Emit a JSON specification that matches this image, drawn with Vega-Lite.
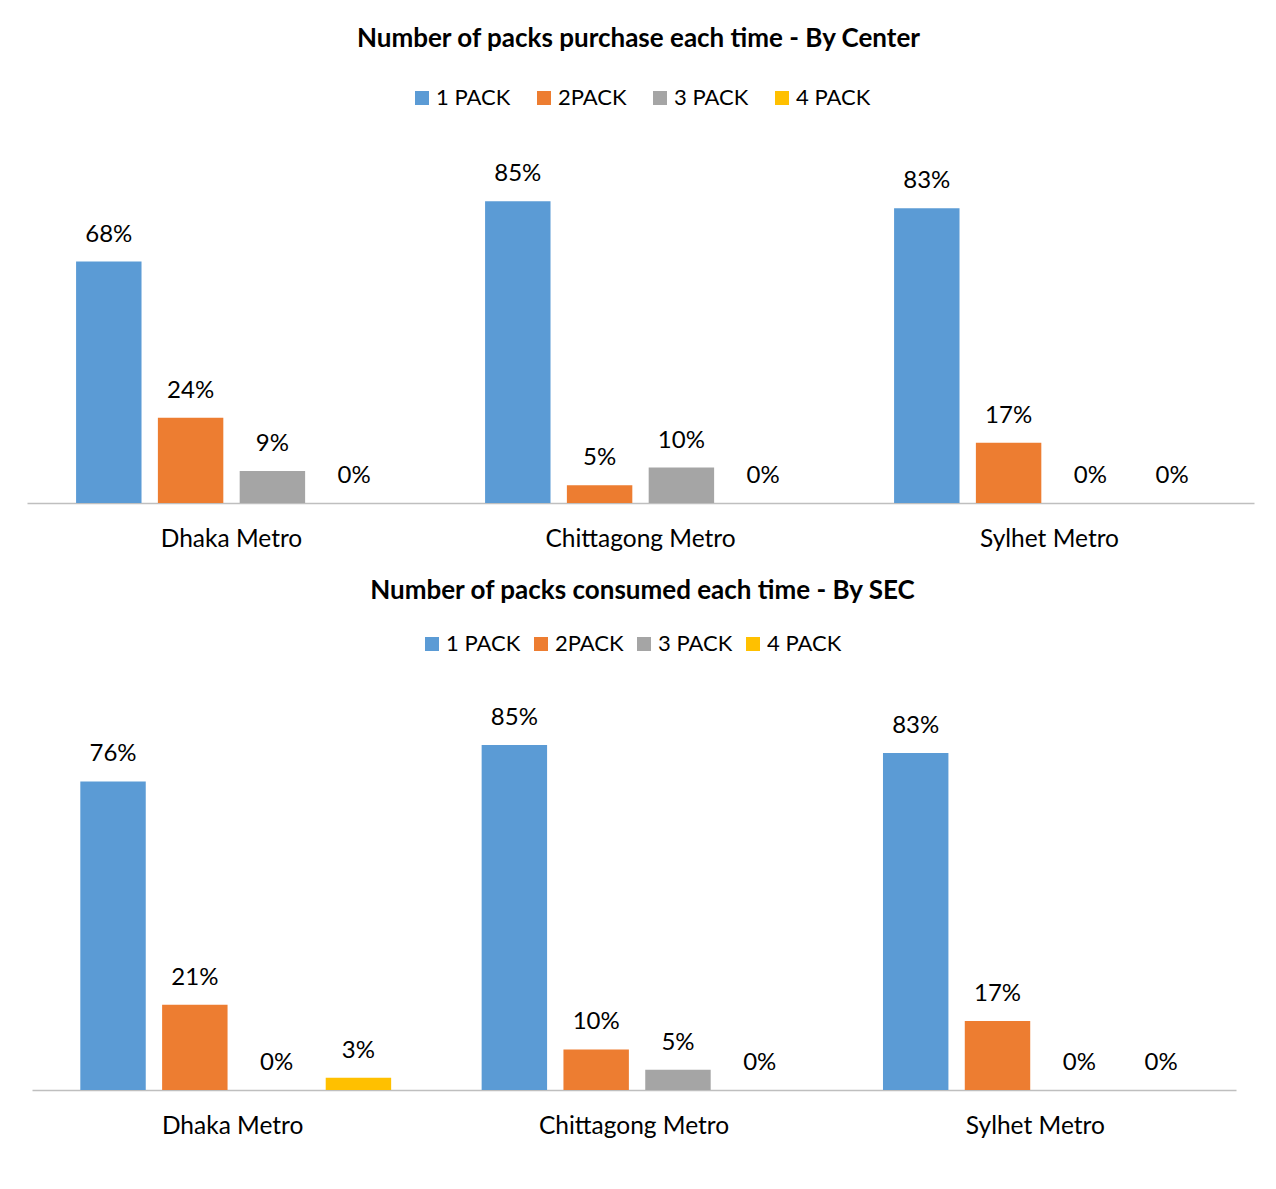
{
  "$schema": "https://vega.github.io/schema/vega-lite/v6.json",
  "background": "white",
  "padding": {"left": 27, "top": 26, "right": 22, "bottom": 10},
  "config": {
    "font": "Lato",
    "view": {"stroke": null},
    "title": {"font": "Lato", "fontSize": 26, "fontWeight": "bold", "color": "#000000", "anchor": "middle"},
    "legend": {"labelFont": "Lato", "labelFontSize": 22, "labelColor": "#000000", "symbolType": "square", "symbolSize": 196, "symbolStrokeWidth": 0, "orient": "top", "direction": "horizontal", "title": null, "labelOffset": 3, "layout": {"top": {"anchor": "middle"}}},
    "axisX": {"labelFont": "Lato", "labelFontSize": 24.5, "labelColor": "#000000", "ticks": false, "domainColor": "#BFBFBF", "domainWidth": 1.5, "labelPadding": 24, "labelLimit": 0, "title": null, "labelAngle": 0, "grid": false}
  },
  "spacing": 27,
  "vconcat": [
    {
      "title": {"text": "Number of packs purchase each time - By Center", "offset": 35, "dx": -2},
      "width": 1227,
      "height": 355,
      "data": {"values": [
        {"center": "Dhaka Metro", "pack": "1 PACK", "pct": 0.68},
        {"center": "Dhaka Metro", "pack": "2PACK", "pct": 0.24},
        {"center": "Dhaka Metro", "pack": "3 PACK", "pct": 0.09},
        {"center": "Dhaka Metro", "pack": "4 PACK", "pct": 0.0},
        {"center": "Chittagong Metro", "pack": "1 PACK", "pct": 0.85},
        {"center": "Chittagong Metro", "pack": "2PACK", "pct": 0.05},
        {"center": "Chittagong Metro", "pack": "3 PACK", "pct": 0.10},
        {"center": "Chittagong Metro", "pack": "4 PACK", "pct": 0.0},
        {"center": "Sylhet Metro", "pack": "1 PACK", "pct": 0.83},
        {"center": "Sylhet Metro", "pack": "2PACK", "pct": 0.17},
        {"center": "Sylhet Metro", "pack": "3 PACK", "pct": 0.0},
        {"center": "Sylhet Metro", "pack": "4 PACK", "pct": 0.0}
      ]},
      "encoding": {
        "x": {"field": "center", "type": "nominal", "sort": ["Dhaka Metro", "Chittagong Metro", "Sylhet Metro"], "scale": {"paddingInner": 0.2, "paddingOuter": 0.1}},
        "xOffset": {"field": "pack", "type": "nominal", "sort": ["1 PACK", "2PACK", "3 PACK", "4 PACK"], "scale": {"paddingInner": 0.2, "paddingOuter": 0.1}},
        "y": {"field": "pct", "type": "quantitative", "scale": {"domain": [0, 1]}, "axis": null}
      },
      "layer": [
        {
          "mark": {"type": "bar", "clip": false},
          "encoding": {
            "color": {"field": "pack", "type": "nominal", "scale": {"domain": ["1 PACK", "2PACK", "3 PACK", "4 PACK"], "range": ["#5B9BD5", "#ED7D31", "#A5A5A5", "#FFC000"]}, "legend": {"columnPadding": 22, "offset": 39}}
          }
        },
        {
          "mark": {"type": "text", "baseline": "middle", "dy": -27, "fontSize": 24, "font": "Lato", "color": "#000000"},
          "encoding": {"text": {"field": "pct", "type": "quantitative", "format": ".0%"}}
        }
      ]
    },
    {
      "title": {"text": "Number of packs consumed each time - By SEC", "offset": 29, "dx": 11},
      "width": 1209,
      "height": 406,
      "data": {"values": [
        {"center": "Dhaka Metro", "pack": "1 PACK", "pct": 0.76},
        {"center": "Dhaka Metro", "pack": "2PACK", "pct": 0.21},
        {"center": "Dhaka Metro", "pack": "3 PACK", "pct": 0.0},
        {"center": "Dhaka Metro", "pack": "4 PACK", "pct": 0.03},
        {"center": "Chittagong Metro", "pack": "1 PACK", "pct": 0.85},
        {"center": "Chittagong Metro", "pack": "2PACK", "pct": 0.10},
        {"center": "Chittagong Metro", "pack": "3 PACK", "pct": 0.05},
        {"center": "Chittagong Metro", "pack": "4 PACK", "pct": 0.0},
        {"center": "Sylhet Metro", "pack": "1 PACK", "pct": 0.83},
        {"center": "Sylhet Metro", "pack": "2PACK", "pct": 0.17},
        {"center": "Sylhet Metro", "pack": "3 PACK", "pct": 0.0},
        {"center": "Sylhet Metro", "pack": "4 PACK", "pct": 0.0}
      ]},
      "encoding": {
        "x": {"field": "center", "type": "nominal", "sort": ["Dhaka Metro", "Chittagong Metro", "Sylhet Metro"], "scale": {"paddingInner": 0.2, "paddingOuter": 0.1, "range": [5, 1209]}},
        "xOffset": {"field": "pack", "type": "nominal", "sort": ["1 PACK", "2PACK", "3 PACK", "4 PACK"], "scale": {"paddingInner": 0.2, "paddingOuter": 0.1}},
        "y": {"field": "pct", "type": "quantitative", "scale": {"domain": [0, 1]}, "axis": null}
      },
      "layer": [
        {
          "mark": {"type": "bar", "clip": false},
          "encoding": {
            "color": {"field": "pack", "type": "nominal", "scale": {"domain": ["1 PACK", "2PACK", "3 PACK", "4 PACK"], "range": ["#5B9BD5", "#ED7D31", "#A5A5A5", "#FFC000"]}, "legend": {"columnPadding": 9, "offset": 29}}
          }
        },
        {
          "mark": {"type": "text", "baseline": "middle", "dy": -27, "fontSize": 24, "font": "Lato", "color": "#000000"},
          "encoding": {"text": {"field": "pct", "type": "quantitative", "format": ".0%"}}
        }
      ]
    }
  ],
  "resolve": {"scale": {"color": "independent"}, "legend": {"color": "independent"}}
}
